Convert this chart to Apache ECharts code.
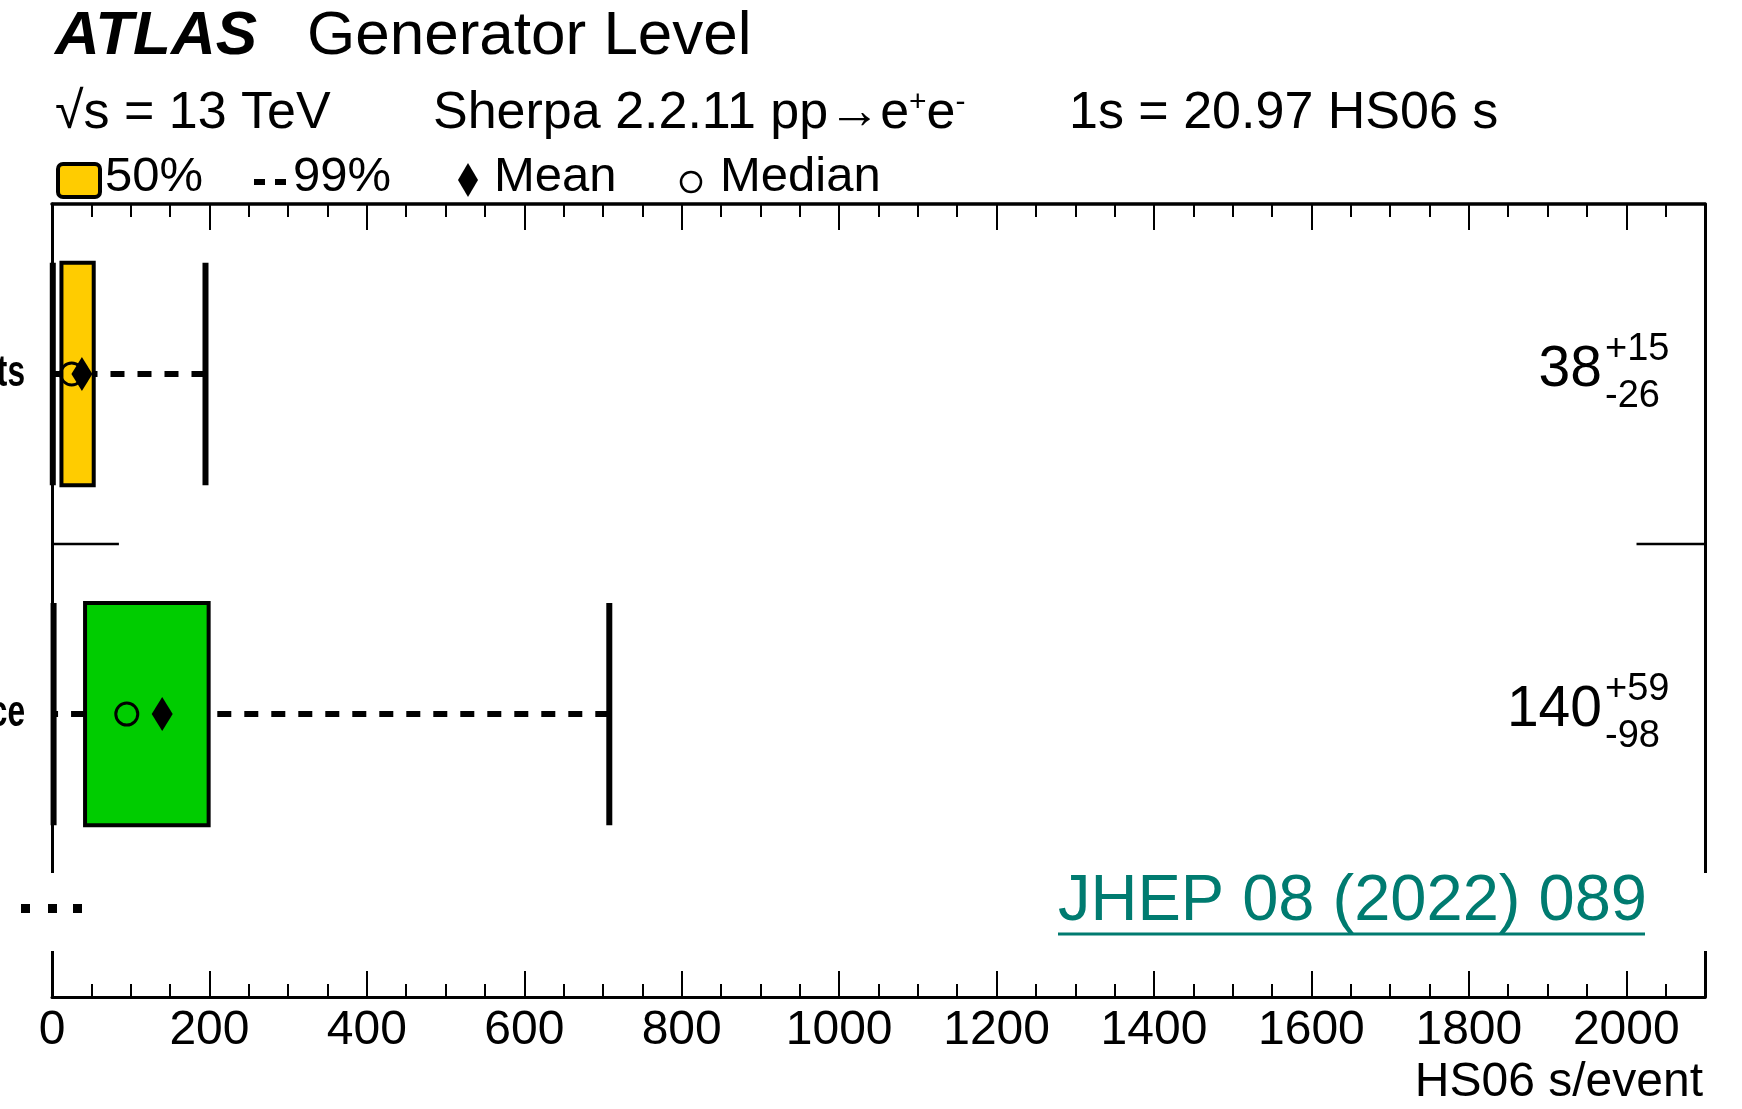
<!DOCTYPE html>
<html><head><meta charset="utf-8">
<script src="https://cdn.jsdelivr.net/npm/echarts@6/dist/echarts.min.js"></script>
<style>html,body{margin:0;padding:0;background:#fff}#c{width:1742px;height:1109px}</style>
</head><body><div id="c"></div>
<script>
// ---- data ----
const categories = ["ts", "ce"];              // visible (cropped) row labels
const boxColors = ["#FFCC00", "#00CC00"];
const meanVals = [38, 140];
const medianVals = [25, 95];
const q50Low = [12, 42];
const q50High = [53, 199];
const p99Low = [1, 2];
const p99High = [195, 708];
const meanLabels = ["38", "140"];
const plusLabels = ["+15", "+59"];
const minusLabels = ["-26", "-98"];
const tickValues = [0, 200, 400, 600, 800, 1000, 1200, 1400, 1600, 1800, 2000];
const tickLabels = ["0", "200", "400", "600", "800", "1000", "1200", "1400", "1600", "1800", "2000"];
const separatorSegments = [[0, 85], [2013, 2100]];

const F = "'Liberation Sans', Arial, Helvetica, sans-serif";
const X_MAX = 2100, Y_MAX = 2.332, BOX_HALF = 0.327;

const chart = echarts.init(document.getElementById('c'), null, {renderer: 'canvas'});

function renderBox(params, api) {
  const i = params.dataIndex;
  const yc = i + 0.5;
  const c = (x, y) => api.coord([x, y]);
  const yC = c(0, yc)[1];
  const yA = c(0, yc - BOX_HALF)[1], yB2 = c(0, yc + BOX_HALF)[1];
  const yT = Math.min(yA, yB2), yB = Math.max(yA, yB2);
  const xwl = c(p99Low[i], yc)[0], xql = c(q50Low[i], yc)[0];
  const xqh = c(q50High[i], yc)[0], xwh = c(p99High[i], yc)[0];
  const xm = c(meanVals[i], yc)[0], xmd = c(medianVals[i], yc)[0];
  const dash = {stroke: '#000', lineWidth: 6, lineDash: [14, 13]};
  const cap = {stroke: '#000', lineWidth: 6};
  return {type: 'group', children: [
    {type: 'line', shape: {x1: xwh, y1: yC, x2: xqh, y2: yC}, style: dash},
    {type: 'line', shape: {x1: xql, y1: yC, x2: xwl, y2: yC}, style: dash},
    {type: 'line', shape: {x1: xwl, y1: yT, x2: xwl, y2: yB}, style: cap},
    {type: 'line', shape: {x1: xwh, y1: yT, x2: xwh, y2: yB}, style: cap},
    {type: 'rect', shape: {x: xql, y: yT, width: xqh - xql, height: yB - yT},
      style: {fill: boxColors[i], stroke: '#000', lineWidth: 4}},
    {type: 'circle', shape: {cx: xmd, cy: yC, r: 11},
      style: {fill: 'none', stroke: '#000', lineWidth: 3}},
    {type: 'polygon', shape: {points: [[xm, yC - 17], [xm + 10.5, yC], [xm, yC + 17], [xm - 10.5, yC]]},
      style: {fill: '#000'}}
  ]};
}

function renderLabels(params, api) {
  const i = params.dataIndex;
  const cs = params.coordSys;
  const yC = api.coord([0, i + 0.5])[1];
  const xr = cs.x + cs.width - 103;
  return {type: 'group', children: [
    {type: 'text', style: {text: meanLabels[i], x: xr, y: yC - 4, align: 'right', verticalAlign: 'middle',
      fontSize: 57, fontFamily: F, fill: '#000'}},
    {type: 'text', style: {text: plusLabels[i], x: xr + 3, y: yC - 25, align: 'left', verticalAlign: 'middle',
      fontSize: 38, fontFamily: F, fill: '#000'}},
    {type: 'text', style: {text: minusLabels[i], x: xr + 3, y: yC + 22, align: 'left', verticalAlign: 'middle',
      fontSize: 38, fontFamily: F, fill: '#000'}},
    {type: 'text', x: cs.x - 27, y: yC, scaleX: 0.72,
      style: {text: categories[i], x: 0, y: 0, align: 'right', verticalAlign: 'middle',
        fontSize: 44, fontWeight: 'bold', fontFamily: F, fill: '#000'}}
  ]};
}

function renderSep(params, api) {
  const s = separatorSegments[params.dataIndex];
  const p1 = api.coord([s[0], 1]), p2 = api.coord([s[1], 1]);
  return {type: 'line', shape: {x1: p1[0], y1: p1[1], x2: p2[0], y2: p2[1]},
    style: {stroke: '#000', lineWidth: 2.5}};
}

const axisBase = {type: 'value', min: 0, max: X_MAX, splitLine: {show: false}};
const lineStyle = {color: '#000', width: 3};

const option = {
  animation: false,
  backgroundColor: '#fff',
  grid: {left: 52, right: 37, top: 204, bottom: 112, containLabel: false},
  xAxis: [
    Object.assign({}, axisBase, {position: 'bottom',
      axisLine: {show: true, onZero: false, lineStyle},
      axisTick: {show: true, inside: true, length: 26, lineStyle: {color: '#000', width: 2}, customValues: tickValues},
      axisLabel: {show: true, margin: 10, fontSize: 48, fontFamily: F, color: '#000',
        customValues: tickValues, formatter: v => tickLabels[tickValues.indexOf(v)] ?? ''}}),
    Object.assign({}, axisBase, {position: 'bottom', interval: 50,
      axisLine: {show: false, onZero: false},
      axisTick: {show: true, inside: true, length: 13, lineStyle: {color: '#000', width: 2}},
      axisLabel: {show: false}}),
    Object.assign({}, axisBase, {position: 'top',
      axisLine: {show: true, onZero: false, lineStyle: {color: '#000', width: 3.5}},
      axisTick: {show: true, inside: true, length: 26, lineStyle: {color: '#000', width: 2}, customValues: tickValues},
      axisLabel: {show: false}}),
    Object.assign({}, axisBase, {position: 'top', interval: 50,
      axisLine: {show: false, onZero: false},
      axisTick: {show: true, inside: true, length: 13, lineStyle: {color: '#000', width: 2}},
      axisLabel: {show: false}})
  ],
  yAxis: [
    {type: 'value', min: 0, max: Y_MAX, inverse: true, position: 'left',
      axisLine: {show: true, onZero: false, lineStyle}, axisTick: {show: false},
      axisLabel: {show: false}, splitLine: {show: false}},
    {type: 'value', min: 0, max: Y_MAX, inverse: true, position: 'right',
      axisLine: {show: true, onZero: false, lineStyle}, axisTick: {show: false},
      axisLabel: {show: false}, splitLine: {show: false}}
  ],
  series: [
    {type: 'custom', name: 'sep', xAxisIndex: 0, yAxisIndex: 0, clip: false,
      data: separatorSegments.map(s => [s[0], 1]), renderItem: renderSep, z: 3},
    {type: 'custom', name: 'box', xAxisIndex: 0, yAxisIndex: 0, clip: false,
      data: categories.map((c, i) => [meanVals[i], i + 0.5]), renderItem: renderBox, z: 4},
    {type: 'custom', name: 'labels', xAxisIndex: 0, yAxisIndex: 0, clip: false,
      data: categories.map((c, i) => [meanVals[i], i + 0.5]), renderItem: renderLabels, z: 5}
  ],
  graphic: [
    {type: 'text', x: 55, y: 37, style: {text: 'ATLAS', fontSize: 62, fontWeight: 'bold', fontStyle: 'italic',
      fontFamily: F, fill: '#000', verticalAlign: 'middle'}},
    {type: 'text', x: 307, y: 37, style: {text: 'Generator Level', fontSize: 62,
      fontFamily: F, fill: '#000', verticalAlign: 'middle'}},
    {type: 'text', x: 55, y: 114, style: {text: '√s = 13 TeV', fontSize: 52,
      fontFamily: F, fill: '#000', verticalAlign: 'middle'}},
    {type: 'text', x: 433, y: 114, style: {text: '{n|Sherpa 2.2.11 pp→e}{s|+}{n|e}{s|-}',
      verticalAlign: 'middle',
      rich: {n: {fontSize: 52, fontFamily: F, fill: '#000'},
             s: {fontSize: 30, fontFamily: F, fill: '#000', verticalAlign: 'top'}}}},
    {type: 'text', x: 1069, y: 114, style: {text: '1s = 20.97 HS06 s', fontSize: 52,
      fontFamily: F, fill: '#000', verticalAlign: 'middle'}},
    // legend
    {type: 'rect', shape: {x: 58, y: 164, width: 42, height: 33, r: 5},
      style: {fill: '#FFCC00', stroke: '#000', lineWidth: 4}},
    {type: 'text', x: 105, y: 177, style: {text: '50%', fontSize: 49, fontFamily: F, fill: '#000', verticalAlign: 'middle'}},
    {type: 'rect', shape: {x: 254, y: 179, width: 11, height: 6}, style: {fill: '#000'}},
    {type: 'rect', shape: {x: 275, y: 179, width: 11, height: 6}, style: {fill: '#000'}},
    {type: 'text', x: 293, y: 177, style: {text: '99%', fontSize: 49, fontFamily: F, fill: '#000', verticalAlign: 'middle'}},
    {type: 'polygon', shape: {points: [[468, 163], [478, 180], [468, 197], [458, 180]]}, style: {fill: '#000'}},
    {type: 'text', x: 494, y: 177, style: {text: 'Mean', fontSize: 49, fontFamily: F, fill: '#000', verticalAlign: 'middle'}},
    {type: 'circle', shape: {cx: 691, cy: 182, r: 10}, style: {fill: 'none', stroke: '#000', lineWidth: 2.5}},
    {type: 'text', x: 720, y: 177, style: {text: 'Median', fontSize: 49, fontFamily: F, fill: '#000', verticalAlign: 'middle'}},
    // axis title
    {type: 'text', x: 1703, y: 1083, style: {text: 'HS06 s/event', fontSize: 48, fontFamily: F, fill: '#000',
      align: 'right', verticalAlign: 'middle'}},
    // white band with ellipsis and reference
    {type: 'rect', z: 100, shape: {x: 0, y: 873, width: 1742, height: 78}, style: {fill: '#fff'}},
    {type: 'rect', z: 101, shape: {x: 21, y: 904, width: 9, height: 9}, style: {fill: '#000'}},
    {type: 'rect', z: 101, shape: {x: 48, y: 904, width: 9, height: 9}, style: {fill: '#000'}},
    {type: 'rect', z: 101, shape: {x: 73, y: 904, width: 9, height: 9}, style: {fill: '#000'}},
    {type: 'text', z: 101, x: 1058, y: 902, style: {text: 'JHEP 08 (2022) 089', fontSize: 65, fontFamily: F,
      fill: '#007B70', verticalAlign: 'middle'}},
    {type: 'line', z: 101, shape: {x1: 1058, y1: 934, x2: 1645, y2: 934}, style: {stroke: '#007B70', lineWidth: 3}}
  ]
};
chart.setOption(option);
</script>
</body></html>
